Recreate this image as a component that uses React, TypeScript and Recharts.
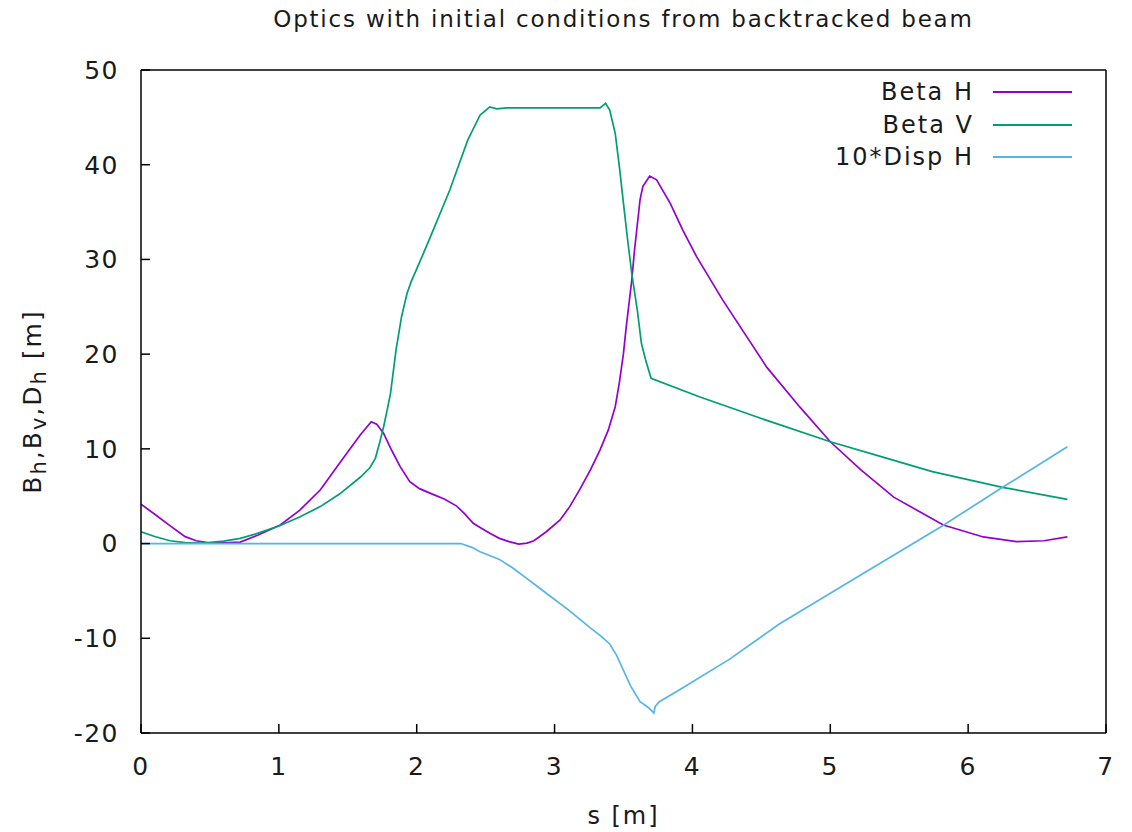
import { Legend, Line, LineChart, XAxis, YAxis } from "recharts";

// s positions [m] and values
const sBetaH = [
  0, 0.1, 0.2, 0.32, 0.4, 0.48, 0.6, 0.72, 0.85, 1.01, 1.15, 1.3, 1.44, 1.59, 1.67, 1.71, 1.76, 1.82, 1.88, 1.95,
  2.02, 2.1, 2.2, 2.29, 2.35, 2.41, 2.46, 2.53, 2.6, 2.67, 2.74, 2.8, 2.85, 2.94, 3.04, 3.11, 3.18, 3.26, 3.33,
  3.39, 3.44, 3.47, 3.5, 3.52, 3.56, 3.58, 3.62, 3.64, 3.69, 3.74, 3.84, 3.93, 4.03, 4.22, 4.54, 4.78, 5.0, 5.22,
  5.46, 5.82, 6.11, 6.35, 6.55, 6.72,
];
const betaH = [
  4.15, 3.1, 2.0, 0.73, 0.3, 0.1, 0.08, 0.15, 0.9, 1.96, 3.5, 5.65, 8.47, 11.46, 12.87, 12.6, 11.64, 9.8, 8.12, 6.53,
  5.8, 5.3, 4.7, 3.96, 3.1, 2.14, 1.7, 1.08, 0.55, 0.2, -0.05, 0.05, 0.3, 1.25, 2.5, 3.9, 5.65, 7.77, 9.9,
  12.0, 14.45, 17.0, 20.1, 22.9, 27.8, 31.0, 36.3, 37.7, 38.8, 38.4, 35.9, 33.1, 30.3, 25.7, 18.6, 14.4, 10.75, 7.8,
  4.9, 1.96, 0.7, 0.2, 0.3, 0.7,
];

const sBetaV = [
  0, 0.1, 0.21, 0.32, 0.45, 0.6, 0.72, 0.85, 1.01, 1.15, 1.3, 1.44, 1.59, 1.66, 1.7, 1.73, 1.76, 1.79, 1.81, 1.85,
  1.89, 1.93, 1.96, 2.03, 2.1, 2.24, 2.37, 2.46, 2.53, 2.58, 2.65, 3.0, 3.33, 3.37, 3.4, 3.44, 3.47, 3.5, 3.53,
  3.56, 3.6, 3.63, 3.66, 3.7, 4.05, 4.5, 5.0, 5.4, 5.74, 6.25, 6.72,
];
const betaV = [
  1.25, 0.75, 0.3, 0.1, 0.05, 0.25, 0.55, 1.1, 1.9, 2.8, 3.9, 5.23, 7.0, 8.0, 9.0, 10.6, 12.34, 14.4, 15.86, 20.44,
  23.95, 26.42, 27.65, 30.0, 32.4, 37.33, 42.6, 45.25, 46.1, 45.9, 46.0, 46.0, 46.0, 46.48, 45.78, 43.3, 39.8, 35.9,
  32.05, 28.5, 24.66, 21.14, 19.4, 17.45, 15.5, 13.2, 10.75, 9.05, 7.6, 5.94, 4.67,
];

const sDispH = [
  0, 1, 2, 2.32, 2.4, 2.46, 2.6, 2.7, 2.8, 2.9, 3.0, 3.1, 3.18, 3.25, 3.33, 3.4, 3.45, 3.5, 3.55, 3.62, 3.68, 3.72,
  3.73, 3.76, 3.91, 4.27, 4.63, 5.16, 5.8, 6.25, 6.72,
];
const dispH10 = [
  0, 0, 0, 0, -0.4, -0.86, -1.67, -2.6, -3.7, -4.8, -5.9, -7.0, -7.96, -8.8, -9.7, -10.6, -11.8, -13.4, -15.0, -16.7,
  -17.3, -17.9, -17.2, -16.7, -15.4, -12.2, -8.5, -3.85, 1.75, 5.94, 10.23,
];

const xTicks = [0, 1, 2, 3, 4, 5, 6, 7];
const yTicks = [-20, -10, 0, 10, 20, 30, 40, 50];

const series = [
  { name: "Beta H", color: "#9400d3", data: sBetaH.map((s, i) => ({ s, v: betaH[i] })) },
  { name: "Beta V", color: "#009e73", data: sBetaV.map((s, i) => ({ s, v: betaV[i] })) },
  { name: "10*Disp H", color: "#56b4e9", data: sDispH.map((s, i) => ({ s, v: dispH10[i] })) },
];

const FONT = '"DejaVu Sans", sans-serif';
const tickFont = { fill: "#1a1a1a", fontSize: 25, fontFamily: FONT, letterSpacing: 1.5 };

const GnuLegend = () => (
  <div style={{ fontFamily: FONT, fontSize: 24, color: "#1a1a1a", letterSpacing: 2 }}>
    {series.map((s) => (
      <div key={s.name} style={{ display: "flex", alignItems: "center", height: 32.5, justifyContent: "flex-end" }}>
        <span style={{ lineHeight: "32px" }}>{s.name}</span>
        <span style={{ display: "inline-block", width: 79, height: 2, background: s.color, marginLeft: 19 }} />
      </div>
    ))}
  </div>
);

const YLabel = (props: any) => {
  const { viewBox } = props;
  const cx = 41;
  const cy = viewBox.y + viewBox.height / 2;
  return (
    <text
      x={cx}
      y={cy}
      transform={`rotate(-90 ${cx} ${cy})`}
      textAnchor="middle"
      fill="#1a1a1a"
      fontSize={25}
      fontFamily={FONT}
      letterSpacing={2}
    >
      B<tspan fontSize={21} dy={5}>h</tspan>
      <tspan dy={-5}>,B</tspan>
      <tspan fontSize={21} dy={5}>v</tspan>
      <tspan dy={-5}>,D</tspan>
      <tspan fontSize={21} dy={5}>h</tspan>
      <tspan dy={-5}> [m]</tspan>
    </text>
  );
};

const Title = (props: any) => {
  const { viewBox } = props;
  return (
    <text
      x={viewBox.x + viewBox.width / 2}
      y={27}
      textAnchor="middle"
      fill="#1a1a1a"
      fontSize={23}
      fontFamily={FONT}
      letterSpacing={1.8}
    >
      Optics with initial conditions from backtracked beam
    </text>
  );
};

export default function App() {
  return (
    <div style={{ position: "absolute", left: 0, top: 0, background: "#fff" }}>
      <LineChart width={1132} height={832} margin={{ top: 69, right: 25, bottom: 0, left: 0 }}>
        <XAxis
          dataKey="s"
          type="number"
          domain={[0, 7]}
          ticks={xTicks}
          allowDataOverflow
          height={99}
          stroke="#000"
          strokeWidth={1.5}
          tickSize={-9}
          tickMargin={33}
          tick={tickFont}
          label={{
            value: "s [m]",
            position: "insideBottom",
            offset: 8,
            fill: "#1a1a1a",
            fontSize: 24,
            fontFamily: FONT,
            letterSpacing: 2,
          }}
        />
        <XAxis
          xAxisId="top"
          orientation="top"
          type="number"
          domain={[0, 7]}
          ticks={xTicks}
          allowDataOverflow
          height={1}
          stroke="#000"
          strokeWidth={1.5}
          tickSize={-9}
          tick={false}
          label={{ content: Title }}
        />
        <YAxis
          type="number"
          domain={[-20, 50]}
          ticks={yTicks}
          allowDataOverflow
          width={141}
          stroke="#000"
          strokeWidth={1.5}
          tickSize={-9}
          tickMargin={31}
          tick={tickFont}
          label={{ content: YLabel }}
        />
        <YAxis
          yAxisId="right"
          orientation="right"
          type="number"
          domain={[-20, 50]}
          ticks={yTicks}
          allowDataOverflow
          width={1}
          stroke="#000"
          strokeWidth={1.5}
          tickSize={-9}
          tick={false}
        />
        <Legend
          layout="horizontal"
          verticalAlign="middle"
          align="center"
          content={<GnuLegend />}
          wrapperStyle={{ position: "absolute", top: 76, left: 700, width: 372 }}
        />
        {series.map((s) => (
          <Line
            key={s.name}
            data={s.data}
            dataKey="v"
            name={s.name}
            type="linear"
            stroke={s.color}
            strokeWidth={1.7}
            dot={false}
            isAnimationActive={false}
          />
        ))}
      </LineChart>
    </div>
  );
}
